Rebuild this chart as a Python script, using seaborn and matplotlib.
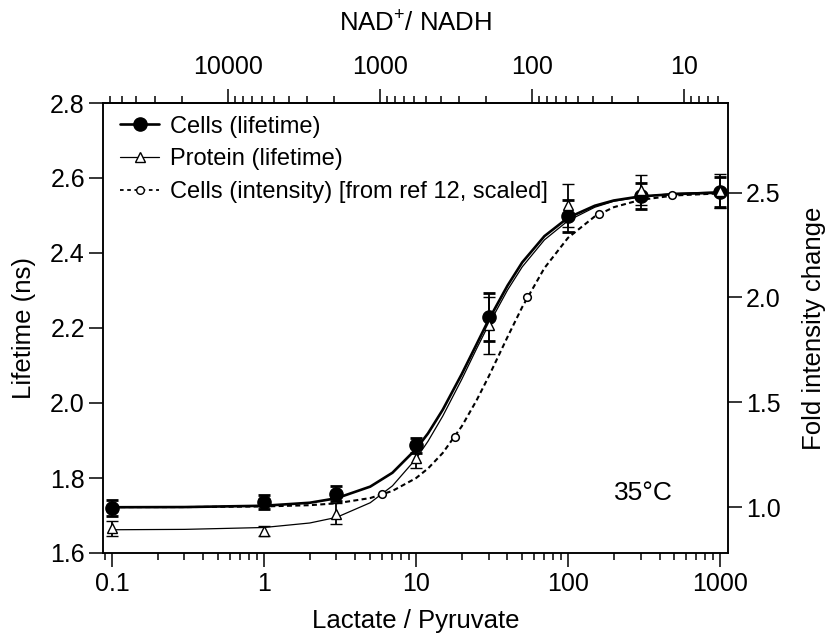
"""NADH sensor lifetime vs lactate/pyruvate titration, with intensity overlay."""

import matplotlib

matplotlib.use("Agg")

import matplotlib.ticker as mticker
import numpy as np
import seaborn as sns
from matplotlib import pyplot as plt
from matplotlib.lines import Line2D


# measured points (lactate / pyruvate ratio)
RATIO = [0.1, 1, 3, 10, 30, 100, 300, 1000]
CELLS_LIFETIME = [1.720, 1.736, 1.758, 1.887, 2.229, 2.498, 2.551, 2.563]
CELLS_ERR = [0.021, 0.019, 0.020, 0.020, 0.064, 0.043, 0.035, 0.040]
PROTEIN_LIFETIME = [1.666, 1.659, 1.705, 1.853, 2.207, 2.527, 2.567, 2.565]
PROTEIN_ERR = [0.020, 0.013, 0.027, 0.027, 0.075, 0.058, 0.040, 0.045]

# intensity data from ref 12 (right axis, fold change)
INTENSITY_RATIO = [6, 18, 54, 160, 480, 1000]
INTENSITY_FOLD = [1.06, 1.335, 2.00, 2.40, 2.49, 2.50]

# fitted curves
FIT_RATIO = [0.1, 0.3, 1, 2, 3, 5, 7, 10, 12, 15, 20, 25, 30, 40, 50, 70,
             100, 150, 200, 300, 500, 1000]
CELLS_FIT = [1.722, 1.7225, 1.726, 1.734, 1.746, 1.777, 1.814, 1.877, 1.919,
             1.982, 2.077, 2.156, 2.221, 2.313, 2.375, 2.445, 2.494, 2.526,
             2.540, 2.551, 2.557, 2.561]
PROTEIN_FIT = [1.662, 1.663, 1.668, 1.680, 1.695, 1.734, 1.779, 1.851, 1.898,
               1.965, 2.063, 2.144, 2.208, 2.301, 2.363, 2.435, 2.486, 2.522,
               2.538, 2.550, 2.559, 2.563]
INTENSITY_FIT = [1.000, 1.000, 1.003, 1.009, 1.018, 1.043, 1.077, 1.138,
                 1.184, 1.258, 1.385, 1.508, 1.621, 1.811, 1.954, 2.140,
                 2.284, 2.386, 2.430, 2.465, 2.486, 2.496]

NAD_K = 5800  # NAD+/NADH = K / (lactate / pyruvate)

LEFT_TICKS = [1.6, 1.8, 2.0, 2.2, 2.4, 2.6, 2.8]
RIGHT_TICKS = [1.0, 1.5, 2.0, 2.5]
TOP_TICKS = [10, 100, 1000, 10000]

INK = "#000000"
TICK_FS = 18
LABEL_FS = 18.5


def to_nad(x):
    x = np.asarray(x, dtype=float)
    with np.errstate(divide="ignore", invalid="ignore"):
        return NAD_K / x


def plain(v, _pos):
    return f"{v:g}"


sns.set_theme(
    style="ticks",
    rc={
        "axes.linewidth": 1.1,
        "axes.edgecolor": INK,
        "axes.labelcolor": INK,
        "xtick.color": INK,
        "ytick.color": INK,
        "text.color": INK,
        "mathtext.fontset": "custom",
        "mathtext.rm": "Liberation Sans",
        "mathtext.it": "Liberation Sans",
    },
)
plt.rcParams["font.family"] = ["Liberation Sans", "DejaVu Sans"]

fig = plt.figure(figsize=(8.29, 6.4), dpi=100)
ax = fig.add_axes([103 / 829, 1 - 553 / 640, 625 / 829, 450 / 640])
ax.set_xscale("log")
ax2 = ax.twinx()
ax3 = ax.twinx()

# fit curves
sns.lineplot(x=FIT_RATIO, y=CELLS_FIT, ax=ax, color=INK, linewidth=1.9)
sns.lineplot(x=FIT_RATIO, y=PROTEIN_FIT, ax=ax, color=INK, linewidth=0.9)
sns.lineplot(x=FIT_RATIO, y=INTENSITY_FIT, ax=ax2, color=INK,
             linewidth=1.5, linestyle=(0, (2.4, 1.6)))

# measured points
ax.errorbar(RATIO, CELLS_LIFETIME, yerr=CELLS_ERR, fmt="o", ms=9.5,
            mfc=INK, mec=INK, ecolor=INK, elinewidth=1.3, capsize=4.5,
            capthick=2.0, zorder=3)
ax2.plot(INTENSITY_RATIO, INTENSITY_FOLD, "o", ms=5.5, mfc="white", mec=INK,
         mew=1.1, zorder=3)
ax3.errorbar(RATIO, PROTEIN_LIFETIME, yerr=PROTEIN_ERR, fmt="^", ms=7.5,
             mfc="white", mec=INK, mew=1.0, ecolor=INK, elinewidth=1.3,
             capsize=4.5, capthick=2.0, zorder=3)

# axes ranges and ticks
ax.set_xlim(0.0873, 1129)
ax.set_ylim(1.6, 2.8)
ax3.set_ylim(1.6, 2.8)
ax2.set_ylim(0.781, 2.927)
ax3.set_axis_off()

ax.xaxis.set_major_locator(mticker.LogLocator(base=10))
ax.xaxis.set_minor_locator(mticker.LogLocator(base=10, subs=np.arange(2, 10)))
ax.xaxis.set_major_formatter(mticker.FuncFormatter(plain))
ax.xaxis.set_minor_formatter(mticker.NullFormatter())
ax.set_yticks(LEFT_TICKS)
ax.yaxis.set_major_formatter(mticker.FormatStrFormatter("%.1f"))
ax2.set_yticks(RIGHT_TICKS)
ax2.yaxis.set_major_formatter(mticker.FormatStrFormatter("%.1f"))

top = ax.secondary_xaxis("top", functions=(to_nad, to_nad))
top.xaxis.set_major_locator(mticker.FixedLocator(TOP_TICKS))
top.xaxis.set_minor_locator(mticker.LogLocator(base=10, subs=np.arange(2, 10)))
top.xaxis.set_major_formatter(mticker.FuncFormatter(plain))
top.xaxis.set_minor_formatter(mticker.NullFormatter())

ax.tick_params(axis="x", which="major", direction="out", length=10,
               width=1.1, labelsize=TICK_FS, pad=4)
top.tick_params(axis="x", which="major", direction="out", length=10,
                width=1.1, labelsize=TICK_FS, pad=7)
for a in (ax, top):
    a.tick_params(axis="x", which="minor", direction="out", length=5, width=1.1)
for a in (ax, ax2):
    a.tick_params(axis="y", which="major", direction="out", length=10,
                  width=1.1, labelsize=TICK_FS, pad=3)
    a.tick_params(axis="y", which="minor", length=0)
for s in ax.spines.values():
    s.set_linewidth(1.1)
for s in ax2.spines.values():
    s.set_linewidth(1.1)
top.spines["top"].set_linewidth(1.1)

ax.set_xlabel("Lactate / Pyruvate", fontsize=LABEL_FS, labelpad=9)
ax.set_ylabel("Lifetime (ns)", fontsize=LABEL_FS, labelpad=10)
ax2.set_ylabel("Fold intensity change", fontsize=LABEL_FS, labelpad=15)
top.set_xlabel("NAD$^{+}$/ NADH", fontsize=LABEL_FS, labelpad=17)

ax.text(0.864, 0.133, "35°C", transform=ax.transAxes, fontsize=19,
        ha="center", va="center")

handles = [
    Line2D([], [], color=INK, lw=1.9, marker="o", ms=9.5, mfc=INK, mec=INK),
    Line2D([], [], color=INK, lw=0.9, marker="^", ms=6.5, mfc="white", mec=INK),
    Line2D([], [], color=INK, lw=1.3, ls=(0, (2.0, 2.0)), marker="o", ms=5.5,
           mfc="white", mec=INK),
]
labels = [
    "Cells (lifetime)",
    "Protein (lifetime)",
    "Cells (intensity) [from ref 12, scaled]",
]
ax3.legend(handles, labels, loc="upper left", bbox_to_anchor=(0.028, 0.972),
           frameon=False, fontsize=17, handlelength=1.65, handletextpad=0.45,
           labelspacing=0.46, borderpad=0, borderaxespad=0)

fig.savefig("out.png", dpi=100)
plt.close(fig)
